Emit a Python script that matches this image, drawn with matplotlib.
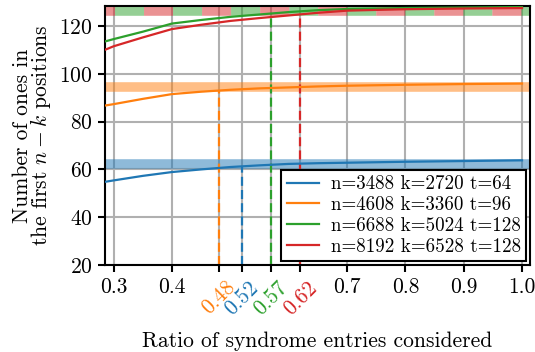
import numpy as np
import matplotlib
matplotlib.use("Agg")
import matplotlib.pyplot as plt

plt.rcParams['font.family'] = ['cmr10', 'DejaVu Serif']
plt.rcParams['mathtext.fontset'] = 'cm'
plt.rcParams['axes.unicode_minus'] = False
plt.rcParams['axes.formatter.use_mathtext'] = True
plt.rcParams['lines.scale_dashes'] = False

# ratio of syndrome entries considered
ratio = [0.285, 0.3, 0.35, 0.4, 0.45, 0.5, 0.55, 0.6, 0.65, 0.7, 0.8, 0.9, 1.0]

ones_3488 = [54.8, 55.4, 57.3, 58.9, 60.0, 61.0, 61.7, 62.3, 62.6, 62.8, 63.2, 63.5, 63.8]
ones_4608 = [86.7, 87.3, 89.5, 91.5, 92.5, 93.3, 93.9, 94.3, 94.7, 95.0, 95.4, 95.7, 95.9]
ones_6688 = [113.5, 114.5, 117.6, 121.0, 122.5, 123.8, 124.8, 125.8, 126.6, 127.1, 127.5, 127.7, 127.9]
ones_8192 = [110.0, 111.5, 115.2, 118.7, 120.5, 122.1, 123.3, 124.4, 125.5, 126.4, 127.0, 127.3, 127.5]

labels = ["n=3488 k=2720 t=64", "n=4608 k=3360 t=96",
          "n=6688 k=5024 t=128", "n=8192 k=6528 t=128"]
t_vals = [64, 96, 128, 128]
thresholds = [0.52, 0.48, 0.57, 0.62]
colors = ['tab:blue', 'tab:orange', 'tab:green', 'tab:red']
series = [ones_3488, ones_4608, ones_6688, ones_8192]

xticks = [0.3, 0.4, 0.48, 0.52, 0.57, 0.62, 0.7, 0.8, 0.9, 1.0]
yticks = [20, 40, 60, 80, 100, 120]

fs = 15.5

fig = plt.figure(figsize=(5.35, 3.52), dpi=100)
ax = fig.add_axes([0.196, 0.247, 0.795, 0.737])

# thick bands at t (the two t=128 ones share a row, so they alternate)
band_lw = 6.9
band_styles = ['-', '-', (34.6, (20.9, 20.9)), (13.7, (20.9, 20.9))]
for t, c, ls in zip(t_vals, colors, band_styles):
    ax.axhline(t - 1.6, color=c, lw=band_lw, alpha=0.5, ls=ls,
               dash_capstyle='butt', zorder=1.5)

for y, lab, c in zip(series, labels, colors):
    ax.plot(ratio, y, color=c, lw=1.6, label=lab, zorder=3)

for y, th, c in zip(series, thresholds, colors):
    ax.vlines(th, 20, np.interp(th, ratio, y), colors=c,
              linestyles=(0, (6.5, 3.0)), lw=1.6, zorder=2.5)

ax.set_xlim(0.285, 1.014)
ax.set_ylim(20, 128.5)
ax.set_xticks(xticks, [f"{v:.1f}" if v not in thresholds else f"{v:.2f}" for v in xticks])
ax.set_yticks(yticks)
for lab, v in zip(ax.get_xticklabels(), xticks):
    if v in thresholds:
        lab.set_color(colors[thresholds.index(v)])
        lab.set_rotation(45)

ax.grid(True, color='#b0b0b0', lw=1.5, zorder=0)
ax.set_axisbelow(True)
for s in ax.spines.values():
    s.set_linewidth(1.5)
ax.tick_params(direction='out', length=5, width=1.5, labelsize=fs, pad=4)

ax.set_xlabel("Ratio of syndrome entries considered", fontsize=fs, labelpad=9)
ax.set_ylabel("Number of ones in\nthe first $n-k$ positions", fontsize=fs,
              linespacing=0.82, labelpad=4)

leg = ax.legend(loc='lower right', fontsize=13.7, fancybox=False, framealpha=1,
                edgecolor='black', borderaxespad=0.2, handlelength=1.7,
                handletextpad=0.6, labelspacing=0.15, borderpad=0.3)
leg.get_frame().set_linewidth(1.5)

fig.savefig("out.png", dpi=100)
